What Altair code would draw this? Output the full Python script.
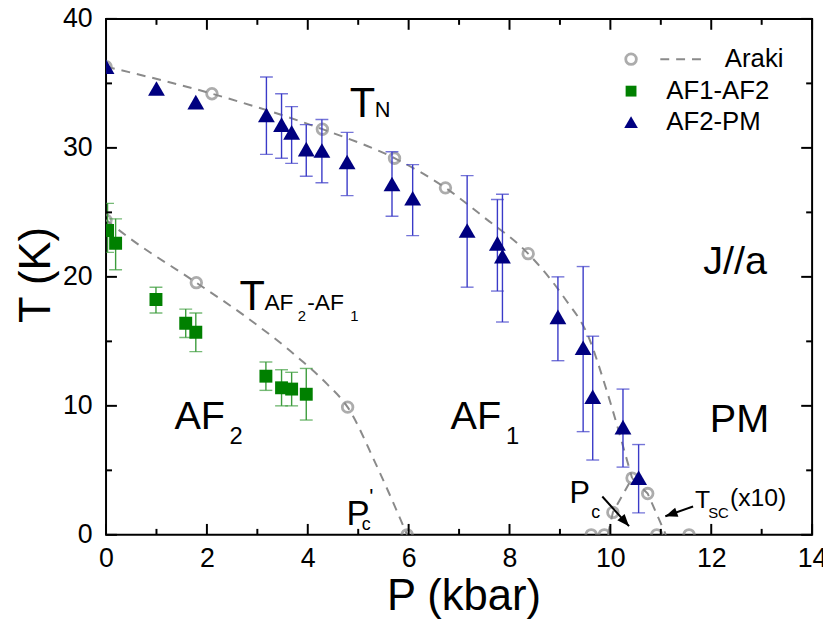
import altair as alt
import pandas as pd

FONT = "Liberation Sans"
GRAY = "#8a8a8a"
NAVY = "#000080"
BLUE_ERR = "#3a3ac8"
GREEN = "#008000"
GREEN_ERR = "#3c9c3c"

# ---------------- data ----------------
# AF2-PM (T_N) triangles with error bars
pm_P = [0.0, 1.0, 1.78, 3.18, 3.48, 3.68, 3.97, 4.28, 4.78, 5.67, 6.08, 7.16, 7.76, 7.86, 8.96, 9.46, 9.65, 10.25, 10.56]
pm_T = [36.3, 34.6, 33.55, 32.55, 31.8, 31.2, 29.9, 29.8, 28.9, 27.2, 26.1, 23.6, 22.6, 21.6, 16.9, 14.5, 10.7, 8.35, 4.43]
pm_lo = [None, None, None, 29.5, 29.2, 28.8, 27.8, 27.3, 26.3, 24.7, 23.2, 19.2, 18.9, 16.5, 13.5, 8.0, 5.8, 5.25, 1.7]
pm_hi = [None, None, None, 35.5, 34.2, 33.2, 31.8, 32.2, 31.2, 29.7, 28.7, 27.85, 26.0, 26.4, 20.0, 20.8, 15.4, 11.3, 7.0]

# AF1-AF2 squares with error bars
af_P = [0.03, 0.19, 0.99, 1.58, 1.78, 3.17, 3.48, 3.68, 3.97]
af_T = [23.6, 22.6, 18.25, 16.4, 15.7, 12.3, 11.4, 11.3, 10.9]
af_lo = [21.9, 20.55, 17.2, 15.3, 14.2, 11.2, 10.0, 10.0, 8.9]
af_hi = [25.7, 24.5, 19.2, 17.5, 17.2, 13.4, 12.8, 12.6, 12.9]

# Araki open circles
araki_P = [0.0, 2.1, 4.29, 5.72, 6.73, 8.37, 10.43, 10.74, 0.0, 1.79, 4.79, 5.97, 10.05, 9.62, 9.88, 10.92, 11.56]
araki_T = [36.3, 34.2, 31.45, 29.2, 26.9, 21.8, 4.4, 3.2, 24.4, 19.55, 9.9, 0.0, 1.74, 0.0, 0.0, 0.0, 0.0]

# dashed guide curves
tn_P = [0.0, 2.1, 4.29, 5.72, 6.73, 7.5, 8.37, 9.1, 9.55, 9.91, 10.3, 10.43]
tn_T = [36.3, 34.2, 31.45, 29.2, 26.9, 24.6, 21.8, 18.3, 15.5, 11.4, 6.2, 4.4]
tail_P = [10.43, 10.74, 11.1]
tail_T = [4.4, 3.2, 0.0]
tsc_P = [9.95, 10.05, 10.43]
tsc_T = [0.0, 1.74, 4.4]
taf_P = [0.0, 0.45, 1.79, 2.74, 3.85, 4.38, 4.79, 5.36, 5.97]
taf_T = [24.4, 23.05, 19.55, 17.0, 13.6, 11.7, 9.9, 5.4, 0.0]

# axis ticks
x_major = [0, 2, 4, 6, 8, 10, 12, 14]
x_minor = [1, 3, 5, 7, 9, 11, 13]
y_major = [0, 10, 20, 30, 40]
y_minor = [5, 15, 25, 35]

# annotation texts
ann_txt = ["T", "N", "T", "AF", "2", "-AF", "1", "AF", "2", "AF", "1", "PM", "J//a",
           "P", "c", "'", "P", "c", "T", "SC", "(x10)"]
ann_P = [4.83, 5.33, 2.645, 3.14, 3.8, 3.99, 4.84, 1.355, 2.45, 6.83, 7.93, 11.97, 11.84,
         4.77, 5.07, 5.22, 9.19, 9.62, 11.68, 11.94, 12.37]
ann_T = [32.4, 32.4, 17.43, 17.43, 16.6, 17.43, 16.6, 8.21, 7.06, 8.21, 7.06, 7.98, 20.19,
         0.79, 0.41, 2.38, 2.46, 1.3, 2.07, 1.3, 2.23]
ann_fs = [42, 22, 42, 23, 15, 23, 15, 40, 24, 40, 24, 40, 40,
          35, 18, 22, 31, 18, 25, 15, 25]

# arrows: tail -> tip
arr_P = [9.84, 11.64]
arr_T = [2.97, 2.2]
arr_P2 = [10.37, 11.09]
arr_T2 = [0.67, 1.44]
arr_ang = [48.3, 160.5]

# legend (positions in data units)
leg_labels = ["Araki", "AF1-AF2", "AF2-PM"]
leg_text_P = [12.27, 11.11, 11.11]
leg_text_T = [36.24, 33.8, 31.4]
leg_sym_P = 10.41
leg_sym_T = [36.88, 34.4, 32.0]
leg_dash_P = [10.99, 11.9]

# ---------------- chart ----------------
xscale = alt.Scale(domain=[0, 14], nice=False, zero=False)
yscale = alt.Scale(domain=[0, 40], nice=False, zero=False)
xaxis = alt.Axis(title="P (kbar)", values=x_major, format="d", labelFont=FONT, labelFontSize=27,
                 titleFont=FONT, titleFontSize=44, titleFontWeight="normal", ticks=False, tickSize=0,
                 domain=False, grid=False, labelPadding=11, titleX=361, titleY=75,
                 titleBaseline="alphabetic", titleAlign="center", labelColor="black",
                 titleColor="black", labelFlush=False, labelOverlap=False)
yaxis = alt.Axis(title="T (K)", values=y_major, format="d", labelFont=FONT, labelFontSize=27,
                 titleFont=FONT, titleFontSize=44, titleFontWeight="normal", ticks=False, tickSize=0,
                 domain=False, grid=False, labelPadding=14, titleX=-57, titleY=258, titleAngle=270,
                 titleBaseline="alphabetic", titleAlign="center", labelColor="black",
                 titleColor="black", labelFlush=False, labelOverlap=False)


def X(f):
    return alt.X(f, type="quantitative", scale=xscale, axis=xaxis)


def Y(f):
    return alt.Y(f, type="quantitative", scale=yscale, axis=yaxis)


pm = pd.DataFrame({"P": pm_P, "T": pm_T, "lo": pm_lo, "hi": pm_hi})
pm_err = pm.dropna()
af = pd.DataFrame({"P": af_P, "T": af_T, "lo": af_lo, "hi": af_hi})
araki = pd.DataFrame({"P": araki_P, "T": araki_T})

dash = [9, 7]


def curve(Ps, Ts, interp):
    return alt.Chart(pd.DataFrame({"P": Ps, "T": Ts})).mark_line(
        color=GRAY, strokeWidth=2, strokeDash=dash, interpolate=interp, clip=True
    ).encode(x=X("P"), y=Y("T"))


tn_line = curve(tn_P, tn_T, "monotone")
tail_line = curve(tail_P, tail_T, "linear")
tsc_line = curve(tsc_P, tsc_T, "linear")
taf_line = curve(taf_P, taf_T, "monotone")

araki_pts = alt.Chart(araki).mark_point(
    shape="circle", filled=False, color=GRAY, strokeWidth=2.8, size=115, clip=True
).encode(x=X("P"), y=Y("T"))


def errbars(df, color):
    rule = alt.Chart(df).mark_rule(color=color, strokeWidth=1.4, clip=True).encode(
        x=X("P"), y=Y("lo"), y2="hi")
    cap_lo = alt.Chart(df).mark_tick(color=color, thickness=1.4, size=13, orient="horizontal",
                                     clip=True).encode(x=X("P"), y=Y("lo"))
    cap_hi = alt.Chart(df).mark_tick(color=color, thickness=1.4, size=13, orient="horizontal",
                                     clip=True).encode(x=X("P"), y=Y("hi"))
    return [rule, cap_lo, cap_hi]


af_pts = alt.Chart(af).mark_point(shape="square", filled=True, color=GREEN, opacity=1,
                                  size=170, clip=True).encode(x=X("P"), y=Y("T"))
pm_pts = alt.Chart(pm).mark_point(shape="triangle-up", filled=True, color=NAVY, opacity=1,
                                  size=290, clip=True).encode(x=X("P"), y=Y("T"))

ann = pd.DataFrame({"txt": ann_txt, "P": ann_P, "T": ann_T, "fs": ann_fs})
ann_layer = alt.Chart(ann).mark_text(align="left", baseline="alphabetic", font=FONT,
                                     color="black").encode(
    x=X("P"), y=Y("T"), text="txt:N", size=alt.Size("fs:Q", scale=None, legend=None))

arr = pd.DataFrame({"P": arr_P, "T": arr_T, "P2": arr_P2, "T2": arr_T2, "ang": arr_ang})
arr_line = alt.Chart(arr).mark_rule(color="black", strokeWidth=2).encode(
    x=X("P"), y=Y("T"), x2="P2", y2="T2")
arr_head = alt.Chart(arr).mark_point(shape="M0,0L-2,-0.8L-2,0.8Z", filled=True, color="black",
                                     opacity=1, size=150).encode(
    x=X("P2"), y=Y("T2"), angle=alt.Angle("ang:Q", scale=None))

leg_txt = pd.DataFrame({"txt": leg_labels, "P": leg_text_P, "T": leg_text_T})
leg_text_layer = alt.Chart(leg_txt).mark_text(align="left", baseline="alphabetic", font=FONT,
                                              fontSize=26, color="black").encode(
    x=X("P"), y=Y("T"), text="txt:N")
leg_circle = alt.Chart(pd.DataFrame({"P": [leg_sym_P], "T": [leg_sym_T[0]]})).mark_point(
    shape="circle", filled=False, color=GRAY, strokeWidth=2.8, size=115).encode(x=X("P"), y=Y("T"))
leg_dash = alt.Chart(pd.DataFrame({"P": leg_dash_P, "T": [leg_sym_T[0]] * 2})).mark_line(
    color=GRAY, strokeWidth=2, strokeDash=dash).encode(x=X("P"), y=Y("T"))
leg_sq = alt.Chart(pd.DataFrame({"P": [leg_sym_P], "T": [leg_sym_T[1]]})).mark_point(
    shape="square", filled=True, color=GREEN, opacity=1, size=120).encode(x=X("P"), y=Y("T"))
leg_tri = alt.Chart(pd.DataFrame({"P": [leg_sym_P], "T": [leg_sym_T[2]]})).mark_point(
    shape="triangle-up", filled=True, color=NAVY, opacity=1, size=190).encode(x=X("P"), y=Y("T"))

H = 521
W = 713


def xticks(vals, length):
    d = pd.DataFrame({"P": vals})
    b = alt.Chart(d).mark_rule(color="black", strokeWidth=2).encode(
        x=X("P"), y=alt.value(H), y2=alt.value(H - length))
    t = alt.Chart(d).mark_rule(color="black", strokeWidth=2).encode(
        x=X("P"), y=alt.value(0), y2=alt.value(length))
    return [b, t]


def yticks(vals, length):
    d = pd.DataFrame({"T": vals})
    l = alt.Chart(d).mark_rule(color="black", strokeWidth=2).encode(
        y=Y("T"), x=alt.value(0), x2=alt.value(length))
    r = alt.Chart(d).mark_rule(color="black", strokeWidth=2).encode(
        y=Y("T"), x=alt.value(W), x2=alt.value(W - length))
    return [l, r]


layers = ([tn_line, tail_line, tsc_line, taf_line, araki_pts]
          + errbars(af, GREEN_ERR) + errbars(pm_err, BLUE_ERR)
          + [af_pts, pm_pts, ann_layer, arr_line, arr_head,
             leg_circle, leg_dash, leg_sq, leg_tri, leg_text_layer]
          + xticks(x_major, 11) + xticks(x_minor, 6) + yticks(y_major, 11) + yticks(y_minor, 6))

chart = alt.layer(*layers).properties(
    width=W, height=H,
    autosize=alt.AutoSizeParams(type="none"),
    padding={"left": 99, "top": 8, "right": 11, "bottom": 83},
).configure_view(stroke="black", strokeWidth=2)

chart.save("out.html", embed_options={"renderer": "svg", "actions": False})
